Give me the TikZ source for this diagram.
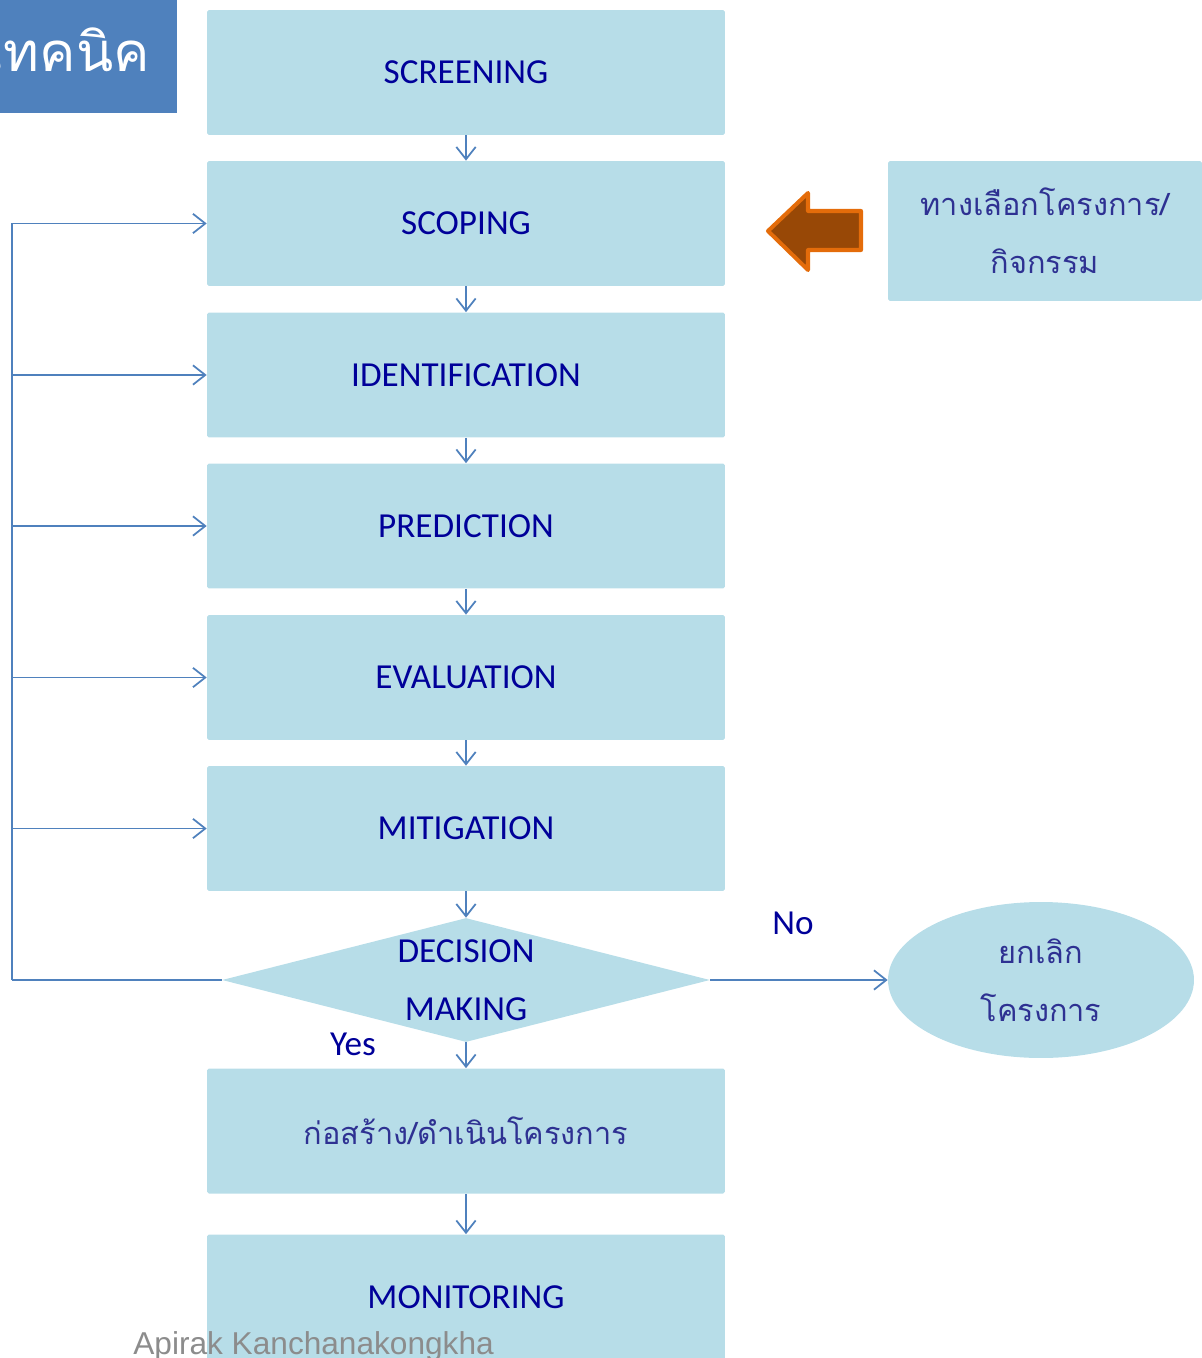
\documentclass[tikz,border=0pt]{standalone}
\usepackage{fontspec}
\setmainfont{Carlito}
\newfontfamily\thaifont[Script=Thai]{Loma}
\newfontfamily\authorfont{Liberation Sans}
\usetikzlibrary{arrows.meta,shapes.geometric}
\definecolor{BoxFill}{RGB}{183,221,232}
\definecolor{LineBlue}{RGB}{79,129,189}
\definecolor{TextBlue}{RGB}{0,0,153}
\definecolor{ThaiBlue}{RGB}{46,49,146}
\definecolor{TitleFill}{RGB}{79,129,189}
\definecolor{ArrowFill}{RGB}{152,72,6}
\definecolor{ArrowEdge}{RGB}{228,108,10}
\definecolor{AuthorGray}{RGB}{140,140,140}
\tikzstyle{StepBox}=[rectangle,fill=BoxFill,rounded corners=1pt,minimum width=10.36cm,
minimum height=2.5cm,inner sep=0pt,text=TextBlue,font=\fontsize{20}{24}\selectfont]
\tikzstyle{ThaiText}=[text=ThaiBlue,align=center,font=\thaifont\fontsize{17.5}{33}\selectfont]
\tikzstyle{FlowArrow}=[LineBlue,line width=1pt,-{Straight Barb[length=7pt,width=11pt]}]
\tikzstyle{FlowLine}=[LineBlue,line width=1pt]

\begin{document}
\begin{tikzpicture}[x=0.02cm,y=-0.02cm]
        \useasboundingbox(0,0)rectangle(1202,1358);
        \clip(0,0)rectangle(1202,1358);
        % title tab
        \fill[TitleFill](0,0)rectangle(177,113);
        \node[anchor=east,text=white,font=\thaifont\fontsize{31}{36}\selectfont](title)at(156,50){เทคนิค};
        % main steps
        \node[StepBox](screening)at(466,72.5){SCREENING};
        \node[StepBox](scoping)at(466,223.5){SCOPING};
        \node[StepBox](identification)at(466,375){IDENTIFICATION};
        \node[StepBox](prediction)at(466,526){PREDICTION};
        \node[StepBox](evaluation)at(466,677.5){EVALUATION};
        \node[StepBox](mitigation)at(466,828.5){MITIGATION};
        \node[diamond,fill=BoxFill,aspect=3.94,inner sep=0pt,minimum width=9.76cm,minimum height=2.48cm,
        text=TextBlue,align=center,font=\fontsize{20}{33}\selectfont](decision)at(466,980){DECISION\\MAKING};
        \node[StepBox,ThaiText](construction)at(466,1131){ก่อสร้าง/ดำเนินโครงการ};
        \node[StepBox](monitoring)at(466,1297){MONITORING};
        % side items
        \node[rectangle,fill=BoxFill,rounded corners=1pt,minimum width=6.28cm,minimum height=2.8cm,
        inner sep=0pt,ThaiText](options)at(1045,231){ทางเลือกโครงการ/\\กิจกรรม};
        \node[ellipse,fill=BoxFill,minimum width=6.12cm,minimum height=3.12cm,inner sep=0pt,
        ThaiText](cancel)at(1041,980){ยกเลิก\\โครงการ};
        \draw[ArrowEdge,fill=ArrowFill,line width=2.3pt,line join=round]
        (768,231)--(808,193)--(808,211)--(861,211)--(861,250)--(808,250)--(808,270)--cycle;
        % flow
        \draw[FlowArrow](screening)--(scoping);
        \draw[FlowArrow](scoping)--(identification);
        \draw[FlowArrow](identification)--(prediction);
        \draw[FlowArrow](prediction)--(evaluation);
        \draw[FlowArrow](evaluation)--(mitigation);
        \draw[FlowArrow](mitigation)--(decision);
        \draw[FlowArrow](decision)--(construction);
        \draw[FlowArrow](construction)--(monitoring);
        \draw[FlowArrow](decision.east)--(cancel.west);
        % feedback loop
        \coordinate(back)at(12,980);
        \draw[FlowLine](decision.west)--(back);
        \draw[FlowArrow](back)|-(scoping.west);
        \draw[FlowArrow](back|-identification.west)--(identification.west);
        \draw[FlowArrow](back|-prediction.west)--(prediction.west);
        \draw[FlowArrow](back|-evaluation.west)--(evaluation.west);
        \draw[FlowArrow](back|-mitigation.west)--(mitigation.west);
        % labels
        \node[text=TextBlue,font=\fontsize{20}{24}\selectfont](no)at(793,923){No};
        \node[text=TextBlue,font=\fontsize{20}{24}\selectfont](yes)at(353,1044){Yes};
        \node[anchor=base west,inner sep=0pt,text=AuthorGray,font=\authorfont\fontsize{18}{20}\selectfont](author)
        at(133,1354){Apirak Kanchanakongkha};
    \end{tikzpicture}
\end{document}
